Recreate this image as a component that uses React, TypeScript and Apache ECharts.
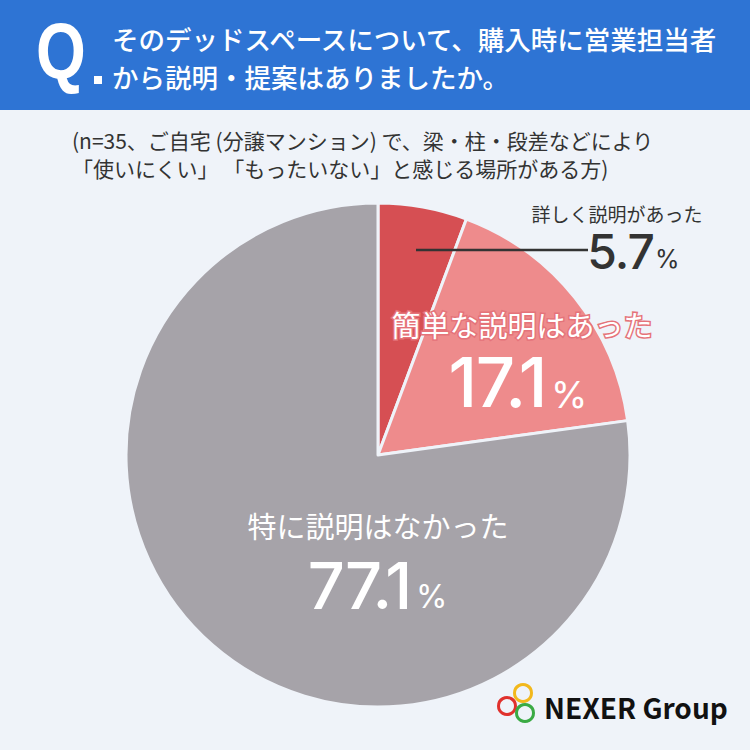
import React, { useEffect, useRef } from "react";
import * as echarts from "echarts";

const categories = ["詳しく説明があった", "簡単な説明はあった", "特に説明はなかった"];
const shares = [5.7, 17.1, 77.1];
const sliceColors = ["#d64f53", "#ee8b8c", "#a6a3a9"];

const titleLines = ["そのデッドスペースについて、購入時に営業担当者", "から説明・提案はありましたか。"];
const noteLines = [
  "(n=35、ご自宅 (分譲マンション) で、梁・柱・段差などにより",
  "「使いにくい」 「もったいない」と感じる場所がある方)",
];

const FONT = "'Noto Sans CJK JP', 'Noto Sans', sans-serif";
const NUM_FONT = "Inter, Lato, sans-serif";
const BG = "#eff3f9";

// label placement per slice: name centre, split point between the figure and its "%"
const labelSpots = [
  { nameX: 617, nameY: 213, splitX: 654, numY: 251, pctY: 259 },
  { nameX: 522, nameY: 324, splitX: 546, numY: 382, pctY: 394 },
  { nameX: 378, nameY: 525, splitX: 411, numY: 585, pctY: 596 },
];

// per-slice label typography
const labelLook = [
  { nameSize: 19, nameColor: "#333", numSize: 48, pctSize: 25, color: "#333", pctGap: 1 },
  { nameSize: 29, nameColor: "#fff", numSize: 69, pctSize: 37, color: "#fff", pctGap: 5 },
  { nameSize: 29, nameColor: "#fff", numSize: 65, pctSize: 32, color: "#fff", pctGap: 5 },
];

export default function App() {
  const ref = useRef<HTMLDivElement>(null);

  useEffect(() => {
    document.body.style.margin = "0";
    if (!ref.current) return;
    const chart = echarts.init(ref.current, null, { renderer: "svg" });

    const sliceLabels: any[] = [];
    categories.forEach((name, i) => {
      const s = labelSpots[i];
      const k = labelLook[i];
      const nameStyle: any = {
        text: name,
        fill: k.nameColor,
        font: `${k.nameSize}px ${FONT}`,
        align: "center",
        verticalAlign: "middle",
      };
      if (i === 1) {
        nameStyle.stroke = "#e5737a";
        nameStyle.lineWidth = 3;
      }
      sliceLabels.push({ type: "text", z: 100, x: s.nameX, y: s.nameY, style: nameStyle });
      sliceLabels.push({
        type: "text",
        z: 100,
        x: s.splitX,
        y: s.numY,
        style: {
          text: String(shares[i]),
          fill: k.color,
          font: `500 ${k.numSize}px ${NUM_FONT}`,
          align: "right",
          verticalAlign: "middle",
        },
      });
      sliceLabels.push({
        type: "text",
        z: 100,
        x: s.splitX + k.pctGap,
        y: s.pctY,
        style: {
          text: "%",
          fill: k.color,
          font: `${k.pctSize}px ${NUM_FONT}`,
          align: "left",
          verticalAlign: "middle",
        },
      });
    });

    chart.setOption({
      animation: false,
      backgroundColor: BG,
      graphic: [
        { type: "rect", shape: { x: 0, y: 0, width: 750, height: 110 }, style: { fill: "#2e74d4" } },
        {
          type: "text",
          x: 36,
          y: 50,
          scaleX: 0.8,
          originX: 0,
          style: { text: "Q", fill: "#fff", font: `bold 80px 'Liberation Sans', sans-serif`, verticalAlign: "middle" },
        },
        { type: "rect", shape: { x: 94, y: 76, width: 8, height: 8 }, style: { fill: "#fff" } },
        {
          type: "text",
          x: 112,
          y: 38,
          style: { text: titleLines[0], fill: "#fff", font: `500 26.5px ${FONT}`, verticalAlign: "middle" },
        },
        {
          type: "text",
          x: 112,
          y: 76,
          style: { text: titleLines[1], fill: "#fff", font: `500 26.5px ${FONT}`, verticalAlign: "middle" },
        },
        {
          type: "text",
          x: 72,
          y: 140,
          style: { text: noteLines[0], fill: "#333", font: `21px ${FONT}`, verticalAlign: "middle" },
        },
        {
          type: "text",
          x: 72,
          y: 168,
          style: { text: noteLines[1], fill: "#333", font: `21px ${FONT}`, verticalAlign: "middle" },
        },
        // leader line for the smallest slice
        {
          type: "line",
          z: 100,
          shape: { x1: 416, y1: 250, x2: 588, y2: 250 },
          style: { stroke: "#333", lineWidth: 2.5 },
        },
        ...sliceLabels,
        // logo
        { type: "circle", shape: { cx: 523, cy: 693, r: 8.5 }, style: { fill: "none", stroke: "#f2b81c", lineWidth: 3 } },
        { type: "circle", shape: { cx: 507, cy: 706, r: 8.5 }, style: { fill: "none", stroke: "#e0312d", lineWidth: 3 } },
        { type: "circle", shape: { cx: 525, cy: 713, r: 8.5 }, style: { fill: "none", stroke: "#3aaa44", lineWidth: 3 } },
        {
          type: "text",
          x: 544,
          y: 707,
          style: { text: "NEXER Group", fill: "#111", font: `bold 28px ${FONT}`, verticalAlign: "middle" },
        },
      ],
      series: [
        {
          type: "pie",
          center: [378, 455],
          radius: 252,
          startAngle: 90,
          clockwise: true,
          silent: true,
          itemStyle: { borderColor: BG, borderWidth: 3 },
          label: { show: false },
          labelLine: { show: false },
          data: categories.map((name, i) => ({
            name,
            value: shares[i],
            itemStyle: { color: sliceColors[i] },
          })),
        },
      ],
    });

    return () => chart.dispose();
  }, []);

  return (
    <>
      <style>{`svg text[style*="Inter"] { font-feature-settings: "pnum" 1, "tnum" 0; letter-spacing: -0.02em; }
svg text { paint-order: stroke; }`}</style>
      <div ref={ref} style={{ width: 750, height: 750 }} />
    </>
  );
}
